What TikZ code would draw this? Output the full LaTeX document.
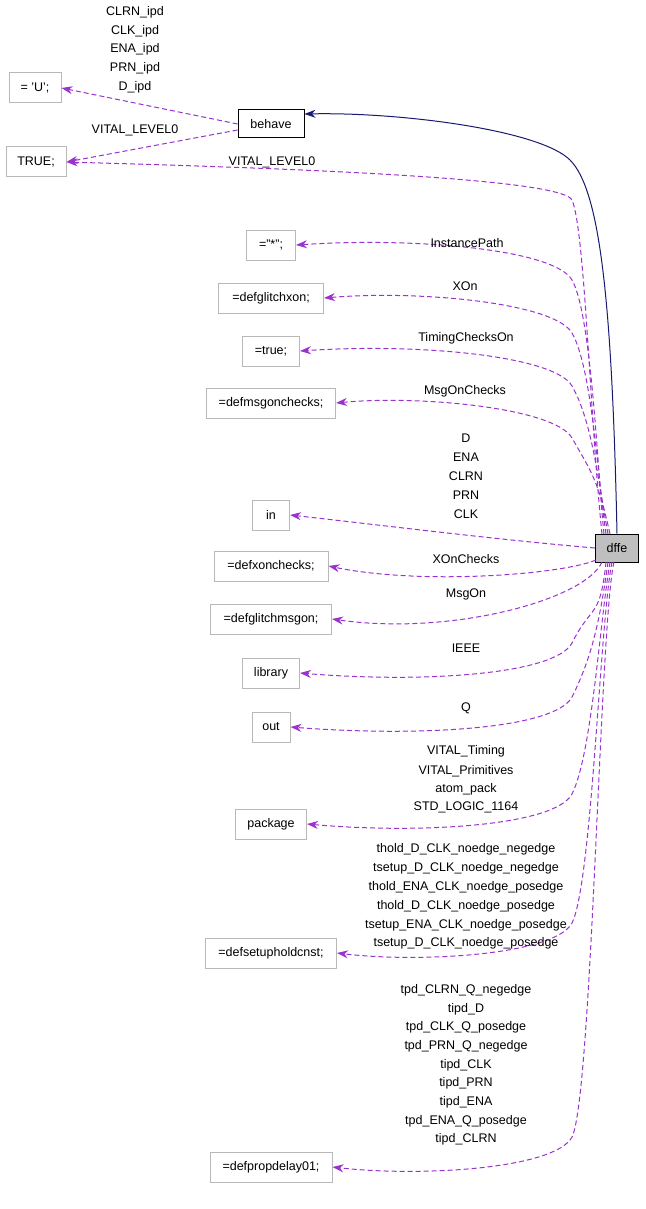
\documentclass[tikz,border=0pt]{standalone}
\usepackage{fontspec}
\setmainfont{Liberation Sans}
\usetikzlibrary{arrows.meta}
\definecolor{dep}{HTML}{9A32CD}
\definecolor{inh}{HTML}{191970}
\begin{document}
\begin{tikzpicture}[x=1pt,y=-1pt,line width=1pt,
  box/.style={draw=black!28,fill=white,inner sep=0pt,minimum height=30pt,font=\fontsize{12.5}{14}\selectfont},
  lbl/.style={font=\fontsize{12.5}{14}\selectfont,align=center,inner sep=0pt},
  dedge/.style={draw=dep,dashed,dash pattern=on 5pt off 3pt,-{Stealth[length=11pt,width=8pt]}},
  iedge/.style={draw=inh,-{Stealth[length=11pt,width=8pt]}}]
\useasboundingbox (0,0) rectangle (645,1209);
\node[box,minimum width=52pt] (U) at (35,88) {= 'U';};
\node[box,draw=black,minimum width=66pt,minimum height=28pt] (behave) at (271,124) {behave};
\node[box,minimum width=60pt] (TRUE) at (36,162) {TRUE;};
\node[box,minimum width=49pt] (star) at (271,245) {="*";};
\node[box,minimum width=105pt] (gx) at (271,298) {=defglitchxon;};
\node[box,minimum width=57pt] (tr) at (271,351) {=true;};
\node[box,minimum width=129pt] (mc) at (271,403) {=defmsgonchecks;};
\node[box,minimum width=37pt] (in) at (271,515) {in};
\node[box,minimum width=114pt] (xc) at (271,566) {=defxonchecks;};
\node[box,minimum width=121pt] (gm) at (271,619) {=defglitchmsgon;};
\node[box,minimum width=57pt] (lib) at (271,673) {library};
\node[box,minimum width=38pt] (out) at (271,727) {out};
\node[box,minimum width=71pt] (pkg) at (271,824) {package};
\node[box,minimum width=131pt] (sh) at (271,953) {=defsetupholdcnst;};
\node[box,minimum width=122pt] (pd) at (271,1167) {=defpropdelay01;};
\node[box,draw=black,fill=black!25,minimum width=43pt,minimum height=28pt] (dffe) at (617,548) {dffe};

\draw[iedge] (dffe.north) .. controls (612,300) and (600,190) .. (570,160) .. controls (540,130) and (400,112) .. (behave.north east|-0,114);
\draw[dedge] (behave.west) -- (U.east);
\draw[dedge] (behave.west|-0,130) -- (TRUE.east);
\draw[dedge] (602,534) .. controls (590,420) and (585,230) .. (572,200) .. controls (560,175) and (200,166) .. (TRUE.east);
\foreach \n/\y/\sx in {star/245/604, gx/298/606, tr/351/608, mc/403/610}{
  \draw[dedge] (\sx,534) .. controls (598,480) and (592,\y+70) .. (572,\y+35) .. controls (555,\y+5) and (420,\y-8) .. (\n.east);
}
\draw[dedge] (dffe.west) .. controls (500,540) and (380,525) .. (in.east);
\draw[dedge] (596,560) .. controls (560,575) and (420,585) .. (xc.east);
\draw[dedge] (602,562) .. controls (585,600) and (450,636) .. (gm.east);
\foreach \n/\y/\sx in {lib/673/606, out/727/608, pkg/824/610, sh/953/612, pd/1167/614}{
  \draw[dedge] (\sx,562) .. controls (600,620) and (592,\y-70) .. (572,\y-30) .. controls (555,\y+2) and (420,\y+10) .. (\n.east);
}
\node[lbl] (l1) at (135,12) {CLRN\_ipd};
\node[lbl] (l2) at (135,31) {CLK\_ipd};
\node[lbl] (l3) at (135,49) {ENA\_ipd};
\node[lbl] (l4) at (135,68) {PRN\_ipd};
\node[lbl] (l5) at (135,87) {D\_ipd};
\node[lbl] (l6) at (135,130) {VITAL\_LEVEL0};
\node[lbl] (l7) at (272,162) {VITAL\_LEVEL0};
\node[lbl] (l8) at (467,243) {InstancePath};
\node[lbl] (l9) at (465,286) {XOn};
\node[lbl] (l10) at (466,338) {TimingChecksOn};
\node[lbl] (l11) at (465,391) {MsgOnChecks};
\foreach \t/\y in {D/438,ENA/457,CLRN/476,PRN/495,CLK/514,XOnChecks/559,MsgOn/594,IEEE/648,Q/708,
  VITAL\_Timing/751,VITAL\_Primitives/771,atom\_pack/789,STD\_LOGIC\_1164/807,
  thold\_D\_CLK\_noedge\_negedge/849,tsetup\_D\_CLK\_noedge\_negedge/868,thold\_ENA\_CLK\_noedge\_posedge/887,
  thold\_D\_CLK\_noedge\_posedge/906,tsetup\_ENA\_CLK\_noedge\_posedge/925,tsetup\_D\_CLK\_noedge\_posedge/943,
  tpd\_CLRN\_Q\_negedge/990,tipd\_D/1009,tpd\_CLK\_Q\_posedge/1027,tpd\_PRN\_Q\_negedge/1046,tipd\_CLK/1065,
  tipd\_PRN/1083,tipd\_ENA/1102,tpd\_ENA\_Q\_posedge/1121,tipd\_CLRN/1139}{
  \node[lbl] at (466,\y) {\t};
}
\end{tikzpicture}
\end{document}
